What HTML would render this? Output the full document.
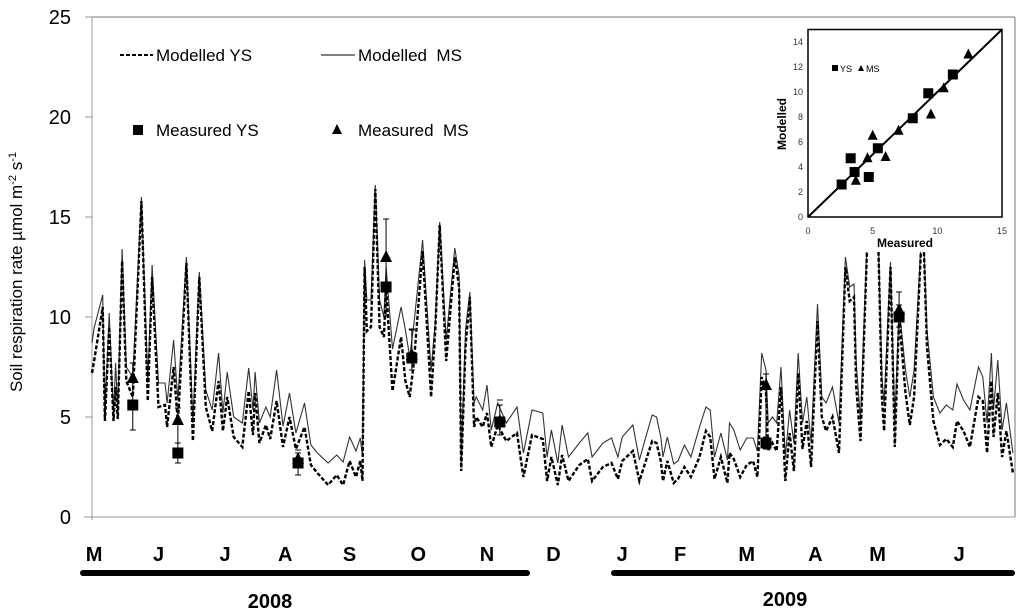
<!DOCTYPE html>
<html><head><meta charset="utf-8">
<style>
html,body{margin:0;padding:0;background:#fff;}
svg{display:block;font-family:"Liberation Sans",sans-serif;}
</style></head>
<body>
<svg id="chart" width="1024" height="609" viewBox="0 0 1024 609" xmlns="http://www.w3.org/2000/svg">
<rect x="0" y="0" width="1024" height="609" fill="#fff"/>
<g id="axes"></g>
<g id="series"></g>
<g id="legend">
  <line x1="120" y1="55" x2="153" y2="55" stroke="#000" stroke-width="2" stroke-dasharray="4,2"/>
  <text x="156" y="61" font-size="17">Modelled YS</text>
  <line x1="321" y1="55" x2="355" y2="55" stroke="#000" stroke-width="1"/>
  <text x="358" y="61" font-size="17">Modelled&#160; MS</text>
  <rect x="133" y="125" width="10" height="10" fill="#000"/>
  <text x="156" y="136" font-size="17">Measured YS</text>
  <polygon points="337,124 332,134 342,134" fill="#000"/>
  <text x="358" y="136" font-size="17">Measured&#160; MS</text>
</g>
<g id="inset"></g>
<text transform="translate(22,272) rotate(-90)" text-anchor="middle" font-size="17">Soil respiration rate µmol m<tspan dy="-6" font-size="11">-2</tspan><tspan dy="6"> s</tspan><tspan dy="-6" font-size="11">-1</tspan></text>
<g id="xlabels"></g>
<rect x="80" y="570" width="450" height="6" rx="3" fill="#000"/>
<rect x="611" y="570" width="404" height="6" rx="3" fill="#000"/>
<text x="270" y="608" text-anchor="middle" font-size="20" font-weight="bold">2008</text>
<text x="785" y="606" text-anchor="middle" font-size="20" font-weight="bold">2009</text>
</svg>
<script>
const days = [0,1,5,6,8,10,11,12,14,16,19,23,26,28,31,34,35,38,40,44,47,50,53,56,59,61,63,66,70,73,75,76,78,81,83,86,89,92,95,99,102,105,110,114,117,120,123,125,126,127,128,130,132,134,136,137,140,144,146,148,150,154,158,160,162,165,169,171,172,174,176,178,179,182,184,186,189,193,198,201,205,210,212,214,217,219,222,227,231,233,238,242,245,247,252,255,258,261,263,265,266,268,271,273,276,279,283,286,288,290,293,296,297,299,302,305,308,310,312,314,315,317,319,321,323,325,327,329,331,333,335,338,340,342,345,348,351,353,355,356,358,361,366,368,369,372,374,376,379,381,383,387,389,392,395,398,401,403,406,409,413,415,417,419,420,422,424,426,429];
const modelledMS = [8.7,9.45,11.1,5.0,10.2,5.0,7.7,5.3,13.4,7.5,7.0,16,6.7,12.6,6.7,6.7,5.7,8.85,5.85,13.0,4.7,12.25,6.35,5.35,8.2,5.2,7.25,5.0,4.7,7.45,5.35,7.25,4.7,5.5,5.0,7.35,4.55,6.2,4.2,5.7,3.6,3.2,2.7,3.1,2.75,4.0,3.3,3.95,3.0,12.85,10.85,10.85,16.6,10.85,10.0,12.5,8.4,10.5,9.35,8.0,9.7,13.85,7.35,9.85,14.75,8.85,13.45,12.1,2.7,9.35,11.25,5.7,6.0,5.35,6.6,4.35,5.7,4.7,5.5,3.2,5.35,5.2,3.0,4.35,2.7,4.6,3.0,3.7,4.2,3.0,3.7,3.95,3.0,4.0,4.6,2.85,4.0,5.1,5.0,4.0,3.0,4.0,2.65,2.8,3.6,3.0,4.5,5.5,5.35,3.0,4.2,2.85,4.7,4.35,3.35,3.95,3.95,3.3,8.2,7.35,4.7,5.0,4.7,7.5,3.0,5.35,3.7,8.2,4.7,6.0,3.7,10.65,6.0,5.7,6.5,4.7,13.0,11.5,11.65,7.7,4.85,13.6,15.2,7.0,5.7,12.75,4.7,10.5,7.35,6.0,7.35,15.2,9.35,6.0,5.2,5.6,5.35,6.65,5.85,5.35,7.5,7.0,4.7,8.2,5.35,7.85,4.35,5.7,3.2];
const modelledYS = [7.2,7.8,10.5,4.8,9.5,4.8,6.5,4.9,12.8,6.8,6.0,15.8,5.8,12.0,5.5,5.6,4.5,7.5,4.7,12.7,3.8,12.0,5.5,4.3,6.8,4.3,6.0,4.0,3.5,6.3,4.1,6.2,3.7,4.6,3.9,5.8,3.5,5.0,3.4,4.5,2.6,2.2,1.6,2.1,1.6,2.8,2.0,2.8,1.8,12.5,9.3,9.5,16.4,9.5,9.0,11.5,6.3,9.0,6.8,6.0,7.8,13.3,6.0,9.5,14.6,7.8,13.0,11.5,2.3,8.5,11.0,4.5,5.0,4.5,5.2,3.5,4.6,3.8,4.2,2.0,4.1,3.9,1.8,3.0,1.6,3.1,1.8,2.6,2.9,1.8,2.5,2.7,1.9,2.8,3.3,1.8,2.8,3.8,3.7,2.8,1.8,2.8,1.7,1.9,2.5,2.0,3.0,4.3,4.0,1.9,3.0,1.7,3.2,2.9,2.0,2.6,2.8,2.0,7.0,6.2,3.3,3.7,3.3,6.5,1.8,4.2,2.3,7.2,3.4,4.8,2.5,9.8,5.0,4.3,5.0,3.2,12.5,10.8,11.0,6.5,3.8,13.2,15.2,6.0,4.3,12.5,3.5,10.0,6.2,4.6,6.0,15.2,8.5,4.8,3.6,3.9,3.5,4.8,4.3,3.5,6.0,5.8,3.2,6.8,4.0,6.2,3.0,4.3,2.2];
const measDays = [19,40,96,137,149,190,314,376];
const measYS = [5.6,3.2,2.7,11.5,7.95,4.75,3.7,10.0];
const measYSlo = [4.35,2.7,2.1,10.05,7.35,4.1,3.4,9.5];
const measYShi = [7.7,3.7,3.35,14.9,9.35,5.85,4.0,10.6];
const measMS = [6.95,4.85,2.9,13.0,8.1,4.8,6.6,10.35];
const measMShi = [7.7,5.45,3.2,14.9,9.4,5.6,7.15,11.25];
const yTicks = [0,5,10,15,20,25];
const monthLabels = ["M","J","J","A","S","O","N","D","J","F","M","A","M","J"];
const monthDays = [1,31,62,90,120,152,184,215,247,274,305,337,366,404];
const insetYSx = [2.6,3.3,3.6,4.7,5.4,8.1,9.3,11.2];
const insetYSy = [2.6,4.7,3.6,3.2,5.5,7.9,9.9,11.4];
const insetMSx = [3.7,4.6,5.0,6.0,7.0,9.5,10.5,12.4];
const insetMSy = [2.9,4.7,6.5,4.8,6.9,8.2,10.3,13.0];
const insetTicksX = [0,5,10,15];
const insetTicksY = [0,2,4,6,8,10,12,14];

const NS="http://www.w3.org/2000/svg";
const X0=92,X1=1015,Y0=517,Y1=17,DMAX=430;
const xS=d=>X0+(d/DMAX)*(X1-X0);
const yS=v=>Y0-(v/25)*(Y0-Y1);
function mk(tag,attrs,parent){const e=document.createElementNS(NS,tag);for(const k in attrs)e.setAttribute(k,attrs[k]);parent.appendChild(e);return e;}
const axes=document.getElementById('axes'),ser=document.getElementById('series'),inset=document.getElementById('inset'),xl=document.getElementById('xlabels');

let e;
e=mk('line',{x1:X0,y1:Y1,x2:X1,y2:Y1,stroke:'#777','stroke-width':1},axes);


e=mk('line',{x1:X1,y1:Y1,x2:X1,y2:Y0,stroke:'#777','stroke-width':1},axes);


e=mk('line',{x1:X0,y1:Y1,x2:X0,y2:Y0+3,stroke:'#999','stroke-width':1},axes);


e=mk('line',{x1:X0-8,y1:Y0,x2:X1,y2:Y0,stroke:'#999','stroke-width':1},axes);


yTicks.forEach(t=>{
  const y=yS(t);
  const l=mk('line',{x1:X0-7,y1:y,x2:X0,y2:y,stroke:'#999'},axes);
  
  
  const tx=mk('text',{x:71,y:y+7,'text-anchor':'end','font-size':20},axes);
  tx.textContent=t;
  
  
});
monthLabels.forEach((m,i)=>{
  const tx=mk('text',{x:xS(monthDays[i]),y:561,'text-anchor':'middle','font-size':20,'font-weight':'bold'},xl);
  tx.textContent=m;
  
  
});
function path(vals){return vals.map((v,i)=>(i?'L':'M')+xS(days[i]).toFixed(1)+','+yS(v).toFixed(1)).join(' ');}
e=mk('path',{d:path(modelledMS),fill:'none',stroke:'#333','stroke-width':1.1},ser);


e=mk('path',{d:path(modelledYS),fill:'none',stroke:'#000','stroke-width':2.4,'stroke-dasharray':'4,2'},ser);


measDays.forEach((d,i)=>{
  const x=xS(d);
  const eb=mk('path',{d:`M${x},${yS(measYSlo[i])}V${yS(measMShi[i])}M${x-3},${yS(measYSlo[i])}h6M${x-3},${yS(measMShi[i])}h6M${x-3},${yS(measYShi[i])}h6`,stroke:'#000','stroke-width':1,fill:'none'},ser);
  
  
  const tri=mk('polygon',{points:`${x},${yS(measMS[i])-7} ${x-6},${yS(measMS[i])+5} ${x+6},${yS(measMS[i])+5}`,fill:'#000'},ser);
  
  
  const sq=mk('rect',{x:x-5.5,y:yS(measYS[i])-5.5,width:11,height:11,fill:'#000'},ser);
  
  
});
// inset
const IX0=808,IX1=1002,IY0=217,IY1=29.5;
const ix=v=>IX0+v/15*(IX1-IX0), iy=v=>IY0-v/15*(IY0-IY1);
e=mk('rect',{x:760,y:20,width:254,height:232,fill:'#fff'},inset);


e=mk('rect',{x:IX0,y:IY1,width:IX1-IX0,height:IY0-IY1,fill:'none',stroke:'#000','stroke-width':1.5},inset);


insetTicksX.forEach(t=>{
  const tx=mk('text',{x:ix(t),y:234,'text-anchor':'middle','font-size':9,fill:'#333'},inset);
  tx.textContent=t;
  
  
});
insetTicksY.forEach(t=>{
  const tx=mk('text',{x:IX0-5,y:iy(t)+3,'text-anchor':'end','font-size':9,fill:'#333'},inset);
  tx.textContent=t;
  
  
});
e=mk('line',{x1:ix(0),y1:iy(0),x2:ix(15),y2:iy(15),stroke:'#000','stroke-width':2},inset);


insetYSx.forEach((v,i)=>{
  const r=mk('rect',{x:ix(v)-5,y:iy(insetYSy[i])-5,width:10,height:10,fill:'#000'},inset);
  
  
});
insetMSx.forEach((v,i)=>{
  const x=ix(v),y=iy(insetMSy[i]);
  const p=mk('polygon',{points:`${x},${y-6} ${x-5},${y+4} ${x+5},${y+4}`,fill:'#000'},inset);
  
  
});
e=mk('rect',{x:832,y:65,width:6,height:6,fill:'#000'},inset);


e=mk('text',{x:840,y:72,'font-size':9},inset);
e.textContent='YS';


e=mk('polygon',{points:'861,65 858,71 864,71',fill:'#000'},inset);


e=mk('text',{x:866,y:72,'font-size':9},inset);
e.textContent='MS';


e=mk('text',{x:905,y:247,'text-anchor':'middle','font-size':12,'font-weight':'bold'},inset);
e.textContent='Measured';


e=mk('text',{transform:'translate(786,124) rotate(-90)','text-anchor':'middle','font-size':12,'font-weight':'bold'},inset);
e.textContent='Modelled';


</script>
</body></html>
